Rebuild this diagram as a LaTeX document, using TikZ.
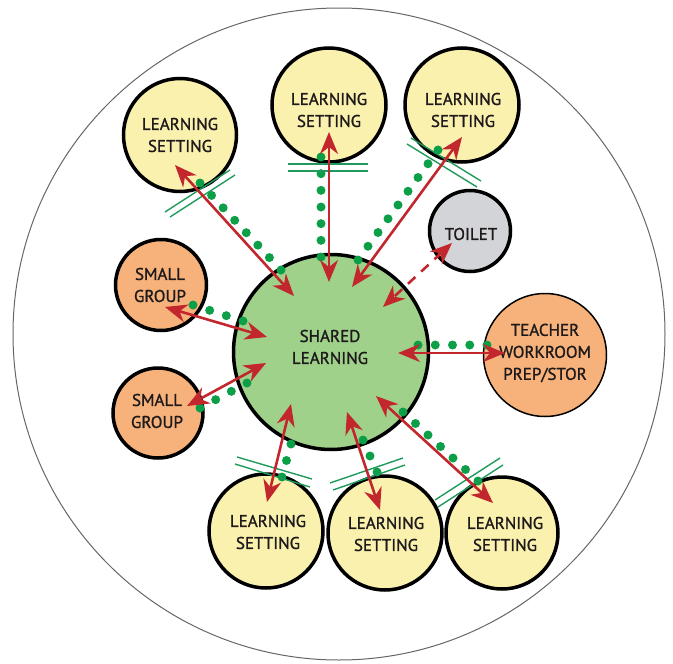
\documentclass[tikz,border=0pt]{standalone}
\usepackage{fontspec}
\setmainfont{PT Sans}[FakeBold=1.2]
\usetikzlibrary{arrows.meta,calc}
\definecolor{ylw}{HTML}{FBF1AE}
\definecolor{grn}{HTML}{9FD18B}
\definecolor{org}{HTML}{F6B27A}
\definecolor{gry}{HTML}{D3D4D8}
\definecolor{redc}{HTML}{C1272D}
\definecolor{dotg}{HTML}{0C9F48}
\definecolor{lineg}{HTML}{1F9A5C}
\definecolor{txt}{HTML}{1E1A1B}
\newcommand\dotrow[3]{\foreach \i in {0,...,#3}{\fill[dotg] ($(#1)!{\i/#3}!(#2)$) circle (4.5);}}
\tikzset{redtip/.tip={Stealth[length=22pt,width=18pt,inset=7pt]}}
\begin{document}
\begin{tikzpicture}[x=1pt,y=-1pt,
 room/.style={circle,draw=black,line width=3.5pt,inner sep=0pt},
 lbl/.style={align=center,font=\fontsize{17}{22}\selectfont,text=txt,inner sep=0pt},
 link/.style={draw=redc,line width=2.6pt,redtip-redtip},
 door/.style={draw=lineg,line width=1.4pt}]
\useasboundingbox (0,0) rectangle (673,664);
\draw[line width=1pt,black!60] (339,334) circle (326);
% rooms
\node[room,fill=grn,minimum size=195pt] (sh) at (331,352) {};
\node[room,fill=ylw,minimum size=113pt] (tl) at (180,135) {};
\node[room,fill=ylw,minimum size=114pt] (tm) at (329,105) {};
\node[room,fill=ylw,minimum size=114pt] (tr) at (462,105) {};
\node[room,fill=gry,minimum size=81pt] (wc) at (470,231) {};
\node[room,fill=org,line width=1.5pt,minimum size=123pt] (tw) at (545,355) {};
\node[room,fill=org,minimum size=91pt] (sg1) at (161,285) {};
\node[room,fill=org,minimum size=90pt] (sg2) at (158,413) {};
\node[room,fill=ylw,minimum size=114pt] (bl) at (266,531) {};
\node[room,fill=ylw,minimum size=114pt] (bm) at (385,533) {};
\node[room,fill=ylw,minimum size=112pt] (br) at (502,533) {};
% labels
\node[lbl] (shT) at (330,347) {SHARED\\LEARNING};
\node[lbl] (tlT) at (180,135) {LEARNING\\SETTING};
\node[lbl] (tmT) at (329,110) {LEARNING\\SETTING};
\node[lbl] (trT) at (463,110) {LEARNING\\SETTING};
\node[lbl] (wcT) at (471,234) {TOILET};
\node[lbl] (twT) at (545,353) {TEACHER\\WORKROOM\\PREP/STOR};
\node[lbl] (sg1T) at (160,285) {SMALL\\GROUP};
\node[lbl] (sg2T) at (157,411) {SMALL\\GROUP};
\node[lbl] (blT) at (268,532) {LEARNING\\SETTING};
\node[lbl] (bmT) at (386,534) {LEARNING\\SETTING};
\node[lbl] (brT) at (505,534) {LEARNING\\SETTING};
% connector end points
\coordinate (tlA) at (175,165); \coordinate (tlB) at (294,296);
\coordinate (tmA) at (329,132); \coordinate (tmB) at (329,282);
\coordinate (trA) at (462,137); \coordinate (trB) at (352,287);
\coordinate (sg1A) at (165,307); \coordinate (sg1B) at (267,337);
\coordinate (sg2A) at (187,406); \coordinate (sg2B) at (266,363);
\coordinate (wcA) at (452,243); \coordinate (wcB) at (383,307);
\coordinate (twA) at (505,353); \coordinate (twB) at (398,353);
\coordinate (blA) at (267,502); \coordinate (blB) at (291,404);
\coordinate (bmA) at (380,510); \coordinate (bmB) at (347,412);
\coordinate (brA) at (493,503); \coordinate (brB) at (376,396);
% dotted rows
\coordinate (d1a) at (200,183); \coordinate (d1b) at (281,270);
\coordinate (d2a) at (321,157); \coordinate (d2b) at (321,257);
\coordinate (d3a) at (438,150); \coordinate (d3b) at (358,260);
\coordinate (d4a) at (193,305); \coordinate (d4b) at (243,321);
\coordinate (d5a) at (200,408); \coordinate (d5b) at (247,383);
\coordinate (d7a) at (418,345); \coordinate (d7b) at (487,345);
\coordinate (d8a) at (291,444); \coordinate (d8b) at (282,477);
\coordinate (d9a) at (363,440); \coordinate (d9b) at (377,472);
\coordinate (d10a) at (403,412); \coordinate (d10b) at (478,481);
\dotrow{d1a}{d1b}{7}
\dotrow{d2a}{d2b}{6}
\dotrow{d3a}{d3b}{8}
\dotrow{d4a}{d4b}{3}
\dotrow{d5a}{d5b}{3}
\dotrow{d7a}{d7b}{4}
\dotrow{d8a}{d8b}{2}
\dotrow{d9a}{d9b}{2}
\dotrow{d10a}{d10b}{6}
% door marks
\coordinate (e1a) at (165,212); \coordinate (e1b) at (230,170);
\coordinate (e1c) at (170,217); \coordinate (e1d) at (235,175);
\coordinate (e2a) at (288,164); \coordinate (e2b) at (368,164);
\coordinate (e2c) at (288,171); \coordinate (e2d) at (368,171);
\coordinate (e3a) at (407,144); \coordinate (e3b) at (477,187);
\coordinate (e3c) at (411,138); \coordinate (e3d) at (481,181);
\coordinate (e8a) at (237,457); \coordinate (e8b) at (312,479);
\coordinate (e8c) at (235,464); \coordinate (e8d) at (310,487);
\coordinate (e9a) at (330,483); \coordinate (e9b) at (403,458);
\coordinate (e9c) at (333,490); \coordinate (e9d) at (405,465);
\coordinate (e10a) at (435,500); \coordinate (e10b) at (500,458);
\coordinate (e10c) at (438,507); \coordinate (e10d) at (503,465);
\foreach \k in {1,2,3,8,9,10}{
  \draw[door] (e\k a) -- (e\k b);
  \draw[door] (e\k c) -- (e\k d);
}
% red links
\draw[link] (tlA) -- (tlB);
\draw[link] (tmA) -- (tmB);
\draw[link] (trA) -- (trB);
\draw[link] (sg1A) -- (sg1B);
\draw[link] (sg2A) -- (sg2B);
\draw[link,dash pattern=on 10pt off 8pt] (wcA) -- (wcB);
\draw[link] (twA) -- (twB);
\draw[link] (blA) -- (blB);
\draw[link] (bmA) -- (bmB);
\draw[link] (brA) -- (brB);
\end{tikzpicture}
\end{document}
